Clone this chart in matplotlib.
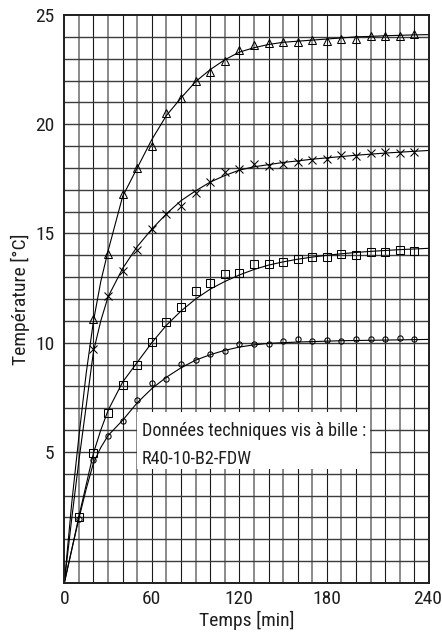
import numpy as np
import matplotlib
matplotlib.use("Agg")
import matplotlib.pyplot as plt
from matplotlib import font_manager
from matplotlib.patches import Rectangle
from matplotlib.transforms import ScaledTranslation

# ---- measured temperatures (°C) every 10 min ----
t_meas = [10, 20, 30, 40, 50, 60, 70, 80, 90, 100, 110, 120,
          130, 140, 150, 160, 170, 180, 190, 200, 210, 220, 230, 240]
nan = float("nan")
temp_triangle = [nan, 11.07, 14.08, 16.8, 18.0, 19.0, 20.5, 21.2, 22.0, 22.4, 22.9, 23.4,
                 23.62, 23.72, 23.76, 23.76, 23.84, 23.8, 23.92, 23.89, 24.04, 24.06, 24.06, 24.13]
temp_cross = [nan, 9.70, 12.13, 13.29, 14.23, 15.19, 15.88, 16.25, 16.86, 17.36, 17.8, 17.97,
              18.17, 18.09, 18.2, 18.25, 18.35, 18.43, 18.61, 18.55, 18.66, 18.73, 18.66, 18.73]
temp_square = [2.03, 4.96, 6.8, 8.05, 8.97, 10.01, 10.95, 11.64, 12.36, 12.71, 13.13, 13.19,
               13.62, 13.62, 13.7, 13.82, 13.93, 13.93, 14.05, 14.0, 14.16, 14.16, 14.23, 14.19]
temp_circle = [1.95, 4.62, 5.73, 6.42, 7.37, 8.16, 8.36, 9.02, 9.23, 9.5, 9.62, 9.96,
               9.96, 9.96, 10.08, 10.15, 10.08, 10.11, 10.08, 10.19, 10.19, 10.16, 10.22, 10.19]

# ---- fitted warm-up curves ----
t_fit = [0, 5, 10, 15, 20, 25, 30, 40, 50, 60, 70, 80, 90, 100, 110, 120,
         130, 140, 150, 160, 170, 180, 190, 200, 210, 220, 230, 240, 250]
fit_triangle = [-1, 2.6, 5.7, 8.6, 11.0, 12.8, 14.2, 16.7, 18.0, 19.3, 20.4, 21.2, 21.95, 22.5,
                22.95, 23.3, 23.5, 23.65, 23.75, 23.8, 23.85, 23.9, 23.95, 24.0, 24.02, 24.05,
                24.07, 24.09, 24.1]
fit_cross = [-1, 1.9, 4.6, 7.1, 9.6, 11.0, 12.1, 13.4, 14.4, 15.2, 15.9, 16.5, 16.95, 17.35,
             17.65, 17.9, 18.05, 18.15, 18.25, 18.32, 18.4, 18.46, 18.52, 18.58, 18.63, 18.68,
             18.72, 18.76, 18.8]
fit_square = [-1, 0.5, 2.05, 3.5, 4.95, 6.0, 6.9, 8.2, 9.1, 10.0, 10.8, 11.45, 12.0, 12.45,
              12.8, 13.1, 13.35, 13.55, 13.7, 13.82, 13.92, 14.0, 14.07, 14.13, 14.18, 14.22,
              14.26, 14.29, 14.32]
fit_circle = [-1, 0.5, 1.95, 3.3, 4.5, 5.2, 5.75, 6.45, 7.25, 7.9, 8.42, 8.85, 9.2, 9.45,
              9.65, 9.8, 9.9, 9.97, 10.0, 10.03, 10.05, 10.07, 10.09, 10.1, 10.11, 10.12,
              10.13, 10.14, 10.15]

x_ticks = [0, 60, 120, 180, 240]
x_tick_labels = ["0", "60", "120", "180", "240"]
y_ticks = [5, 10, 15, 20, 25]
y_tick_labels = ["5", "10", "15", "20", "25"]

# ---- font ----
available = {f.name for f in font_manager.fontManager.ttflist}
family = "DejaVu Sans"
for cand in ["Roboto Condensed", "Liberation Sans Narrow", "DejaVu Sans"]:
    if cand in available:
        family = cand
        break
plt.rcParams["font.family"] = [family, "DejaVu Sans"]

ink = "#1e1e1e"

fig = plt.figure(figsize=(4.42, 6.43), dpi=100)
ax = fig.add_axes([0.1455, 0.0933, 0.8251, 0.8834])
ax.set_xlim(0, 250)
ax.set_ylim(-1, 25)

# grid: every 10 min / every 1 °C
for xv in np.arange(10, 250, 10):
    if xv % 20 == 0:
        ax.axvline(xv, color="#1a1a1a", lw=0.8, zorder=1)
    else:
        ax.axvline(xv, color="#8a8a8a", lw=1.4, zorder=1)
for yv in np.arange(0, 25, 1):
    ax.axhline(yv, color="#3c3c3c", lw=1.0, zorder=1)

# info box
ax.add_patch(Rectangle((50, 4.2), 159.5, 2.65, facecolor="white", edgecolor="none", zorder=2))
ax.text(53.3, 5.75, "Données techniques vis à bille :", fontsize=13.1, va="baseline",
        ha="left", zorder=3, color=ink)
ax.text(53.3, 4.45, "R40-10-B2-FDW", fontsize=13.1, va="baseline", ha="left", zorder=3,
        color=ink)

# fitted curves
for fit in (fit_triangle, fit_cross, fit_square, fit_circle):
    ax.plot(t_fit, fit, color="black", lw=0.8, zorder=4)

# measured points
ax.plot(t_meas, temp_triangle, ls="none", marker="^", ms=6, mfc="none", mec="black",
        mew=0.75, zorder=5)
ax.plot(t_meas, temp_cross, ls="none", marker="x", ms=5.2, mec="black", mew=0.75, zorder=5)
ax.plot(t_meas, temp_square, ls="none", marker="s", ms=5.2, mfc="none", mec="black",
        mew=0.75, zorder=5)
ax.plot(t_meas, temp_circle, ls="none", marker="o", ms=3.8, mfc="none", mec="black",
        mew=0.75, zorder=5)

for s in ax.spines.values():
    s.set_linewidth(1.4)
    s.set_color(ink)
    s.set_zorder(6)

ax.set_xticks(x_ticks)
ax.set_xticklabels(x_tick_labels)
ax.set_yticks(y_ticks)
ax.set_yticklabels(y_tick_labels)
ax.tick_params(axis="both", length=0, labelsize=14, colors=ink)
ax.tick_params(axis="x", pad=5)
ax.tick_params(axis="y", pad=7)
# last time label sits at the right edge of the frame
last = ax.get_xticklabels()[-1]
last.set_transform(last.get_transform() + ScaledTranslation(13 / 100, 0, fig.dpi_scale_trans))

ax.set_xlabel("Temps [min]", fontsize=14, labelpad=2, color=ink)
ax.set_ylabel("Température [°C]", fontsize=14, labelpad=4, color=ink)

fig.savefig("out.png", dpi=100)
